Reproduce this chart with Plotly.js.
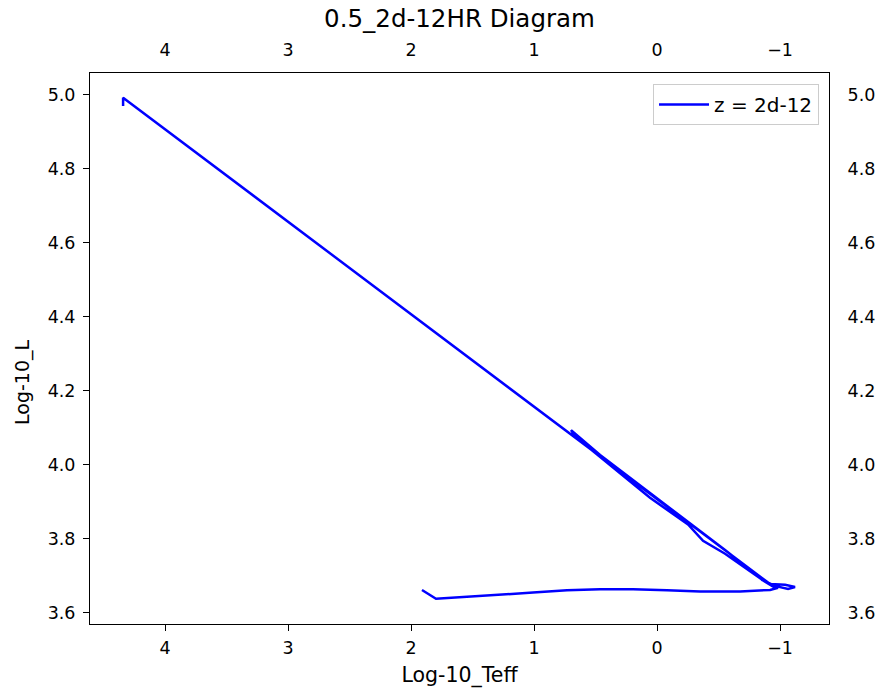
<!DOCTYPE html>
<html>
<head>
<meta charset="utf-8">
<script src="https://cdn.plot.ly/plotly-3.0.1.min.js"></script>
<style>
html,body{margin:0;padding:0;background:#fff;}
#chart{width:883px;height:692px;}
</style>
</head>
<body>
<div id="chart"></div>
<script>
// Track: Log-10_Teff (x) and Log-10_L (y)
const logTeff = [
  4.341, 4.341,
  -0.919, -1.041, -1.122, -1.065, -0.959, -0.854, -0.837,
  -0.553, -0.350, 0.057, 0.463, 0.699,
  0.667, 0.057, -0.252, -0.374, -0.553, -0.878, -0.959,
  -0.984, -0.919, -0.675, -0.350, -0.081, 0.195, 0.463, 0.732, 1.008, 1.276, 1.545, 1.797, 1.911
];
const logL = [
  4.970, 4.992,
  3.678, 3.676, 3.670, 3.665, 3.673, 3.689, 3.695,
  3.770, 3.821, 3.925, 4.027, 4.094,
  4.077, 3.911, 3.839, 3.795, 3.760, 3.684, 3.668,
  3.668, 3.662, 3.658, 3.658, 3.661, 3.664, 3.664, 3.661, 3.655, 3.649, 3.643, 3.638, 3.662
];
const seriesName = 'z = 2d-12';
const xTickVals = [4, 3, 2, 1, 0, -1];
const xTickText = ['4', '3', '2', '1', '0', '\u22121'];
const yTickVals = [3.6, 3.8, 4.0, 4.2, 4.4, 4.6, 4.8, 5.0];
const yTickText = ['3.6', '3.8', '4.0', '4.2', '4.4', '4.6', '4.8', '5.0'];
const titleText = '0.5_2d-12HR Diagram';
const xTitle = 'Log-10_Teff';
const yTitle = 'Log-10_L';

const FONT = 'DejaVu Sans, Arial, sans-serif';
const xRange = [4.610, -1.398];
const yRange = [3.570, 5.059];

const traces = [
  {
    x: logTeff, y: logL, type: 'scatter', mode: 'lines', name: seriesName,
    line: {color: '#0000ff', width: 2.5}, xaxis: 'x', yaxis: 'y'
  },
  {
    x: logTeff, y: logL, type: 'scatter', mode: 'lines', showlegend: false,
    hoverinfo: 'skip', line: {color: 'rgba(0,0,0,0)', width: 0}, xaxis: 'x2', yaxis: 'y2'
  }
];

const tickFont = {family: FONT, size: 17.5, color: '#000'};
const layout = {
  width: 883, height: 692,
  margin: {l: 90, r: 54, t: 73, b: 68, pad: 0},
  paper_bgcolor: '#fff', plot_bgcolor: '#fff',
  font: {family: FONT, color: '#000'},
  title: {text: titleText, font: {family: FONT, size: 24.5, color: '#000'},
          x: 0.5, xref: 'paper', xanchor: 'center', y: 1 - 18/692, yref: 'container', yanchor: 'middle'},
  showlegend: true,
  legend: {x: 0.9865, y: 0.980, xanchor: 'right', yanchor: 'top', itemwidth: 50,
           bordercolor: '#cccccc', borderwidth: 1, bgcolor: 'rgba(255,255,255,0.8)',
           font: {family: FONT, size: 20, color: '#000'}},
  annotations: [{
    text: yTitle, textangle: -90, xref: 'paper', yref: 'paper',
    x: -68/739, y: (624 - 383)/551, xanchor: 'center', yanchor: 'middle', showarrow: false,
    font: {family: FONT, size: 19, color: '#000'}
  }],
  xaxis: {
    range: xRange, autorange: false, showgrid: false, zeroline: false,
    showline: true, linecolor: '#000', linewidth: 1, mirror: true,
    ticks: 'outside', ticklen: 6, tickwidth: 1, tickcolor: '#000', ticklabelstandoff: 2,
    tickmode: 'array', tickvals: xTickVals, ticktext: xTickText, tickfont: tickFont,
    title: {text: xTitle, font: {family: FONT, size: 20.5, color: '#000'}, standoff: 10}
  },
  yaxis: {
    range: yRange, autorange: false, showgrid: false, zeroline: false,
    showline: true, linecolor: '#000', linewidth: 1, mirror: true,
    ticks: 'outside', ticklen: 6, tickwidth: 1, tickcolor: '#000', ticklabelstandoff: 4,
    tickmode: 'array', tickvals: yTickVals, ticktext: yTickText, tickfont: tickFont
  },
  xaxis2: {
    overlaying: 'x', side: 'top', anchor: 'y2',
    range: xRange, autorange: false, showgrid: false, zeroline: false, showline: false,
    ticks: 'outside', ticklen: 9, tickcolor: 'rgba(0,0,0,0)',
    tickmode: 'array', tickvals: xTickVals, ticktext: xTickText, tickfont: tickFont
  },
  yaxis2: {
    overlaying: 'y', side: 'right', anchor: 'x2',
    range: yRange, autorange: false, showgrid: false, zeroline: false, showline: false,
    ticks: 'outside', ticklen: 6, tickcolor: 'rgba(0,0,0,0)', ticklabelstandoff: 8,
    tickmode: 'array', tickvals: yTickVals, ticktext: yTickText, tickfont: tickFont
  }
};

Plotly.newPlot('chart', traces, layout, {displayModeBar: false, staticPlot: true});
</script>
</body>
</html>
